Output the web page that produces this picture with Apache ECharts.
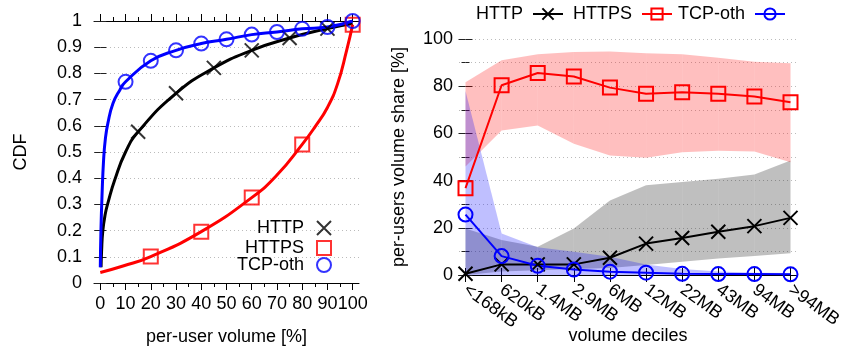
<!DOCTYPE html>
<html><head><meta charset="utf-8">
<script src="https://cdn.jsdelivr.net/npm/echarts@6/dist/echarts.min.js"></script>
<style>html,body{margin:0;padding:0;background:#fff}#c{width:842px;height:350px}</style>
</head><body><div id="c"></div>
<script>
// ---------- Left chart: CDF of per-user volume ----------
const cdfXMajor = [0,10,20,30,40,50,60,70,80,90,100];
const cdfXMinor = [0,5,10,15,20,25,30,35,40,45,50,55,60,65,70,75,80,85,90,95,100];
const httpCurve = [[0.3,0.06],[0.5,0.12],[1,0.2],[2,0.265],[3,0.305],[5.7,0.393],[10,0.5],[15,0.577],[30,0.724],[45,0.821],[60,0.888],[75,0.935],[90,0.971],[100,0.99]];
const httpsCurve = [[0,0.04],[9,0.065],[20,0.101],[40,0.196],[60,0.326],[70,0.412],[80,0.529],[85,0.595],[90,0.67],[94,0.76],[97.6,0.888],[100,0.986]];
const tcpCurve = [[0,0.06],[0.25,0.2],[0.7,0.34],[1.3,0.47],[2,0.55],[3,0.61],[5,0.685],[7.7,0.736],[10,0.768],[20,0.848],[30,0.888],[40,0.914],[50,0.93],[60,0.948],[70,0.958],[80,0.97],[90,0.977],[100,1.0]];
const httpMarks = [[15,0.577],[30,0.724],[45,0.821],[60,0.888],[75,0.935],[90,0.971]];
const httpsMarks = [[20,0.101],[40,0.196],[60,0.326],[80,0.529],[100,0.986]];
const tcpMarks = [[10,0.768],[20,0.848],[30,0.888],[40,0.914],[50,0.93],[60,0.948],[70,0.958],[80,0.97],[90,0.977],[100,1.0]];

// ---------- Right chart: per-users volume share by decile ----------
const deciles = ['<168kB','620kB','1.4MB','2.9MB','6MB','12MB','22MB','43MB','94MB','>94MB'];
const httpShare = [0.5,4.5,4.5,4.5,7.3,13.3,15.7,18.3,20.7,24.2];
const httpsShare = [36.8,80.4,85.6,84.1,79.4,76.8,77.4,76.8,75.6,73.2];
const tcpShare = [25.6,8.0,3.9,2.3,1.4,1.0,0.5,0.4,0.4,0.3];
const httpLo = [0,1.5,2,2.5,3,4.2,5.6,7.0,8.0,9.2];
const httpHi = [19.7,14.8,12,19.7,31.6,38,39.4,40.8,42.6,48.5];
const httpsLo = [46,61.2,63.3,55.6,50.6,49.7,52.0,52.7,52.3,47.8];
const httpsHi = [81.7,91.0,93.5,94.5,94.7,94.0,93.5,92.1,90.4,89.7];
const tcpLo = [0,0,0,0,0,0,0,0,0,0];
const tcpHi = [78,17.6,11.8,9.8,7.7,4.5,2.5,1.5,1.0,0.8];

const FONT = 'Liberation Sans, Arial, Helvetica, sans-serif';
const FS = 18;
const idx = deciles.map((_, i) => i);
const pairs = arr => arr.map((v, i) => [i, v]);
const crossPath = 'path://M0,0L10,10M10,0L0,10';
const squarePath = 'path://M0,0L10,0L10,10L0,10Z';
const black = '#000';

function band(name, lo, hi, color) {
  return {
    name: name, type: 'custom', xAxisIndex: 4, yAxisIndex: 2, silent: true, z: 1,
    data: lo.map((v, i) => [i, v, hi[i]]),
    encode: { x: 0, y: [1, 2] },
    renderItem: (params, api) => {
      const i = params.dataIndex;
      if (i >= lo.length - 1) return null;
      const pts = [
        api.coord([i, api.value(2)]), api.coord([i + 1, hi[i + 1]]),
        api.coord([i + 1, lo[i + 1]]), api.coord([i, api.value(1)])
      ];
      return { type: 'polygon', shape: { points: pts }, style: { fill: color } };
    }
  };
}

const axisLineBlack = { show: true, lineStyle: { color: black, width: 1 } };
const dotted = { show: true, lineStyle: { color: '#bbbbbb', type: [1, 3], width: 1 } };
const legText = { color: black, fontSize: FS, fontFamily: FONT };
const legTextR = { color: black, fontSize: FS, fontFamily: FONT, padding: [0, 5, 0, 0] };

const option = {
  animation: false,
  textStyle: { fontFamily: FONT },
  grid: [
    { left: 94, top: 21, width: 265, height: 262, outerBoundsMode: 'none', containLabel: false },
    { left: 459, top: 39, width: 338, height: 236, outerBoundsMode: 'none', containLabel: false }
  ],
  xAxis: [
    { type: 'value', gridIndex: 0, min: -2.5, max: 102.5, position: 'bottom',
      axisLine: axisLineBlack,
      axisTick: { show: true, customValues: cdfXMajor, length: 7, lineStyle: { color: black } },
      axisLabel: { customValues: cdfXMajor, margin: 12, color: black, fontSize: FS, fontFamily: FONT },
      splitLine: { show: false },
      name: 'per-user volume [%]', nameLocation: 'middle', nameGap: 45,
      nameTextStyle: { color: black, fontSize: FS, fontFamily: FONT } },
    { type: 'value', gridIndex: 0, min: -2.5, max: 102.5, position: 'bottom',
      axisLine: { show: false },
      axisTick: { show: true, customValues: cdfXMinor, length: 4, lineStyle: { color: black } },
      axisLabel: { show: false }, splitLine: { show: false } },
    { type: 'value', gridIndex: 0, min: -2.5, max: 102.5, position: 'top',
      axisLine: axisLineBlack,
      axisTick: { show: true, customValues: cdfXMajor, length: 7, lineStyle: { color: black } },
      axisLabel: { show: false }, splitLine: { show: false } },
    { type: 'value', gridIndex: 0, min: -2.5, max: 102.5, position: 'top',
      axisLine: { show: false },
      axisTick: { show: true, customValues: cdfXMinor, length: 4, lineStyle: { color: black } },
      axisLabel: { show: false }, splitLine: { show: false } },
    { type: 'value', gridIndex: 1, min: -0.18, max: 9.18, position: 'bottom',
      axisLine: axisLineBlack,
      axisTick: { show: true, customValues: idx, length: 7, lineStyle: { color: black } },
      axisLabel: { customValues: idx, formatter: v => deciles[Math.round(v)], rotate: -36, margin: 13,
                   color: black, fontSize: FS, fontFamily: FONT },
      splitLine: { show: false },
      name: 'volume deciles', nameLocation: 'middle', nameGap: 52, nameMoveOverlap: false,
      nameTextStyle: { color: black, fontSize: FS, fontFamily: FONT } },
    { type: 'value', gridIndex: 1, min: -0.18, max: 9.18, position: 'top',
      axisLine: axisLineBlack,
      axisTick: { show: true, customValues: idx, length: 7, lineStyle: { color: black } },
      axisLabel: { show: false }, splitLine: { show: false } }
  ],
  yAxis: [
    { type: 'value', gridIndex: 0, min: 0, max: 1, interval: 0.1, position: 'left',
      axisLine: { show: false },
      axisTick: { show: true, inside: true, length: 6, lineStyle: { color: '#222' } },
      axisLabel: { margin: 12, color: black, fontSize: FS, fontFamily: FONT,
                   formatter: v => (Math.round(v * 10) / 10).toString() },
      splitLine: dotted,
      name: 'CDF', nameLocation: 'middle', nameGap: 64,
      nameTextStyle: { color: black, fontSize: FS, fontFamily: FONT } },
    { type: 'value', gridIndex: 0, min: 0, max: 1, interval: 0.1, position: 'right',
      axisLine: { show: false },
      axisTick: { show: true, inside: true, length: 6, lineStyle: { color: '#222' } },
      axisLabel: { show: false }, splitLine: { show: false } },
    { type: 'value', gridIndex: 1, min: 0, max: 100, interval: 20, position: 'left',
      axisLine: { show: false },
      axisTick: { show: true, inside: true, length: 7, lineStyle: { color: '#222' } },
      minorTick: { show: true, splitNumber: 2, length: 4, lineStyle: { color: '#222' } },
      axisLabel: { margin: 6, color: black, fontSize: FS, fontFamily: FONT },
      splitLine: dotted, minorSplitLine: dotted,
      name: 'per-users volume share [%]', nameLocation: 'middle', nameGap: 51,
      nameTextStyle: { color: black, fontSize: FS, fontFamily: FONT } },
    { type: 'value', gridIndex: 1, min: 0, max: 100, interval: 20, position: 'right',
      axisLine: { show: false },
      axisTick: { show: true, inside: true, length: 7, lineStyle: { color: '#222' } },
      minorTick: { show: true, splitNumber: 2, length: 4, lineStyle: { color: '#222' } },
      axisLabel: { show: false }, splitLine: { show: false } }
  ],
  legend: [
    { data: ['HTTP'], right: 510, top: 219, padding: 0, align: 'right', itemWidth: 30, itemHeight: 14,
      selectedMode: false, textStyle: legText },
    { data: ['HTTPS'], right: 510, top: 239, padding: 0, align: 'right', itemWidth: 30, itemHeight: 14,
      selectedMode: false, textStyle: legText },
    { data: ['TCP-oth'], right: 510, top: 256, padding: 0, align: 'right', itemWidth: 30, itemHeight: 14,
      selectedMode: false, textStyle: legText },
    { data: ['r:HTTP'], left: 471, top: 0, align: 'right', itemWidth: 30, itemHeight: 14,
      selectedMode: false, formatter: n => n.slice(2), textStyle: legTextR },
    { data: ['r:HTTPS'], left: 568, top: 0, align: 'right', itemWidth: 30, itemHeight: 14,
      selectedMode: false, formatter: n => n.slice(2), textStyle: legTextR },
    { data: ['r:TCP-oth'], left: 673, top: 0, align: 'right', itemWidth: 30, itemHeight: 14,
      selectedMode: false, formatter: n => n.slice(2), textStyle: legTextR }
  ],
  series: [
    { name: 'HTTP-curve', type: 'line', xAxisIndex: 0, yAxisIndex: 0, data: httpCurve, smooth: 0.5,
      showSymbol: false, symbol: 'none', lineStyle: { color: black, width: 3 }, z: 3 },
    { name: 'HTTPS-curve', type: 'line', xAxisIndex: 0, yAxisIndex: 0, data: httpsCurve, smooth: 0.5,
      showSymbol: false, symbol: 'none', lineStyle: { color: '#ff0000', width: 3 }, z: 3 },
    { name: 'TCP-curve', type: 'line', xAxisIndex: 0, yAxisIndex: 0, data: tcpCurve, smooth: 0.5,
      showSymbol: false, symbol: 'none', lineStyle: { color: '#0000ff', width: 3 }, z: 3 },
    { name: 'HTTP', type: 'scatter', xAxisIndex: 0, yAxisIndex: 0, data: httpMarks, symbol: crossPath, symbolSize: 14,
      itemStyle: { color: 'rgba(0,0,0,0)', borderColor: black, borderWidth: 2 }, z: 4 },
    { name: 'HTTPS', type: 'scatter', xAxisIndex: 0, yAxisIndex: 0, data: httpsMarks, symbol: squarePath, symbolSize: 14,
      itemStyle: { color: 'rgba(0,0,0,0)', borderColor: '#ff0000', borderWidth: 2 }, z: 4 },
    { name: 'TCP-oth', type: 'scatter', xAxisIndex: 0, yAxisIndex: 0, data: tcpMarks, symbol: 'circle', symbolSize: 14,
      itemStyle: { color: 'rgba(0,0,0,0)', borderColor: '#0000ff', borderWidth: 2 }, z: 4 },
    band('http-band', httpLo, httpHi, 'rgba(0,0,0,0.25)'),
    band('https-band', httpsLo, httpsHi, 'rgba(255,0,0,0.25)'),
    band('tcp-band', tcpLo, tcpHi, 'rgba(0,0,255,0.25)'),
    { name: 'r:HTTP', type: 'line', xAxisIndex: 4, yAxisIndex: 2, data: pairs(httpShare), symbol: crossPath, symbolSize: 14,
      showAllSymbol: true, lineStyle: { color: black, width: 2 },
      itemStyle: { color: 'rgba(0,0,0,0)', borderColor: black, borderWidth: 2 }, z: 5 },
    { name: 'r:HTTPS', type: 'line', xAxisIndex: 4, yAxisIndex: 2, data: pairs(httpsShare), symbol: 'rect', symbolSize: 14,
      showAllSymbol: true, lineStyle: { color: '#ff0000', width: 2 },
      itemStyle: { color: 'rgba(0,0,0,0)', borderColor: '#ff0000', borderWidth: 2 }, z: 5 },
    { name: 'r:TCP-oth', type: 'line', xAxisIndex: 4, yAxisIndex: 2, data: pairs(tcpShare), symbol: 'circle', symbolSize: 14,
      showAllSymbol: true, lineStyle: { color: '#0000ff', width: 2 },
      itemStyle: { color: 'rgba(0,0,0,0)', borderColor: '#0000ff', borderWidth: 2 }, z: 5 }
  ]
};

const chart = echarts.init(document.getElementById('c'), null, { renderer: 'canvas' });
chart.setOption(option);
</script>
</body></html>
